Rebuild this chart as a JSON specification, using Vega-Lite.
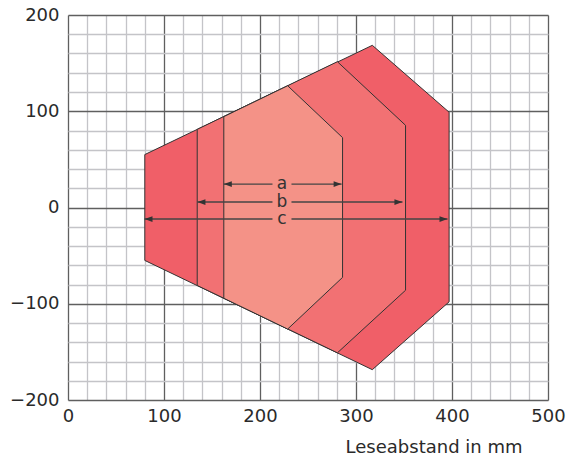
{
  "$schema": "https://vega.github.io/schema/vega-lite/v6.json",
  "width": 480,
  "height": 385,
  "autosize": {"type": "none"},
  "padding": {"left": 68, "top": 15, "right": 20, "bottom": 57},
  "background": "white",
  "config": {
    "view": {"stroke": null},
    "font": "DejaVu Sans",
    "axis": {"labelFont": "DejaVu Sans", "titleFont": "DejaVu Sans"}
  },
  "datasets": {
    "regions": [
      {"region": "c", "x": 80, "top": 55, "bottom": -55},
      {"region": "c", "x": 317, "top": 168.5, "bottom": -168.5},
      {"region": "c", "x": 397, "top": 99, "bottom": -98},
      {"region": "b", "x": 134.6, "top": 81.2, "bottom": -81},
      {"region": "b", "x": 280.6, "top": 151.5, "bottom": -151},
      {"region": "b", "x": 351.6, "top": 85.4, "bottom": -86},
      {"region": "a", "x": 162.3, "top": 94.4, "bottom": -94.3},
      {"region": "a", "x": 228.8, "top": 126.5, "bottom": -126.3},
      {"region": "a", "x": 286, "top": 72.6, "bottom": -72.6}
    ],
    "segments": [
      {"label": "a", "y": 24.3, "x1": 162.3, "x2": 213},
      {"label": "a", "y": 24.3, "x1": 232.8, "x2": 285},
      {"label": "b", "y": 5.7, "x1": 134.8, "x2": 213},
      {"label": "b", "y": 5.7, "x1": 232.8, "x2": 348.4},
      {"label": "c", "y": -12, "x1": 79.7, "x2": 213},
      {"label": "c", "y": -12, "x1": 232.8, "x2": 395.3}
    ],
    "arrows": [
      {"label": "a", "y": 24.3, "left": 162.3, "right": 285, "mid": 222.9},
      {"label": "b", "y": 5.7, "left": 134.8, "right": 348.4, "mid": 222.9},
      {"label": "c", "y": -12, "left": 79.7, "right": 395.3, "mid": 222.9}
    ]
  },
  "encoding": {
    "x": {
      "type": "quantitative",
      "scale": {"domain": [0, 500], "nice": false, "zero": false},
      "axis": {
        "orient": "bottom",
        "values": [0,20,40,60,80,100,120,140,160,180,200,220,240,260,280,300,320,340,360,380,400,420,440,460,480,500],
        "grid": true,
        "gridColor": {"condition": {"test": "datum.value % 100 === 0", "value": "#5f5f5f"}, "value": "#c4c4c8"},
        "gridWidth": 1.3,
        "gridOpacity": 1,
        "domain": false,
        "ticks": false,
        "labelExpr": "datum.value % 100 === 0 ? datum.label : ''",
        "labelOverlap": false,
        "labelFlush": false,
        "labelFontSize": 18,
        "labelColor": "#2a2a2a",
        "labelPadding": 7,
        "title": "Leseabstand in mm",
        "titleFontSize": 18,
        "titleFontWeight": "normal",
        "titleColor": "#2a2a2a",
        "titleX": 454,
        "titleY": 52,
        "titleAlign": "right",
        "titleBaseline": "alphabetic"
      }
    },
    "y": {
      "type": "quantitative",
      "scale": {"domain": [-200, 200], "nice": false, "zero": false},
      "axis": {
        "orient": "left",
        "values": [-200,-180,-160,-140,-120,-100,-80,-60,-40,-20,0,20,40,60,80,100,120,140,160,180,200],
        "grid": true,
        "gridColor": {"condition": {"test": "datum.value % 100 === 0", "value": "#5f5f5f"}, "value": "#c4c4c8"},
        "gridWidth": 1.3,
        "gridOpacity": 1,
        "domain": false,
        "ticks": false,
        "labelExpr": "datum.value % 100 === 0 ? datum.label : ''",
        "labelOverlap": false,
        "labelFlush": false,
        "labelFontSize": 18,
        "labelColor": "#2a2a2a",
        "labelPadding": 9,
        "title": null
      }
    }
  },
  "layer": [
    {
      "data": {"name": "regions"},
      "transform": [{"filter": "datum.region === 'c'"}],
      "mark": {"type": "area", "color": "#f05f68", "stroke": "#333333", "strokeWidth": 1, "opacity": 1},
      "encoding": {
        "x": {"field": "x"},
        "y": {"field": "top"},
        "y2": {"field": "bottom"}
      }
    },
    {
      "data": {"name": "regions"},
      "transform": [{"filter": "datum.region === 'b'"}],
      "mark": {"type": "area", "color": "#f27173", "stroke": "#333333", "strokeWidth": 1, "opacity": 1},
      "encoding": {
        "x": {"field": "x"},
        "y": {"field": "top"},
        "y2": {"field": "bottom"}
      }
    },
    {
      "data": {"name": "regions"},
      "transform": [{"filter": "datum.region === 'a'"}],
      "mark": {"type": "area", "color": "#f49287", "stroke": "#333333", "strokeWidth": 1, "opacity": 1},
      "encoding": {
        "x": {"field": "x"},
        "y": {"field": "top"},
        "y2": {"field": "bottom"}
      }
    },
    {
      "data": {"name": "segments"},
      "mark": {"type": "rule", "color": "#444444", "strokeWidth": 1.4},
      "encoding": {
        "x": {"field": "x1"},
        "x2": {"field": "x2"},
        "y": {"field": "y"}
      }
    },
    {
      "data": {"name": "arrows"},
      "mark": {"type": "point", "filled": true, "color": "#333333", "opacity": 1, "size": 256, "shape": "M0,0L1,-0.36L1,0.36Z"},
      "encoding": {
        "x": {"field": "left"},
        "y": {"field": "y"}
      }
    },
    {
      "data": {"name": "arrows"},
      "mark": {"type": "point", "filled": true, "color": "#333333", "opacity": 1, "size": 256, "shape": "M0,0L-1,-0.36L-1,0.36Z"},
      "encoding": {
        "x": {"field": "right"},
        "y": {"field": "y"}
      }
    },
    {
      "data": {"name": "arrows"},
      "mark": {"type": "text", "fontSize": 17, "color": "#333333", "align": "center", "baseline": "middle", "font": "DejaVu Sans"},
      "encoding": {
        "x": {"field": "mid"},
        "y": {"field": "y"},
        "text": {"field": "label"}
      }
    }
  ]
}
